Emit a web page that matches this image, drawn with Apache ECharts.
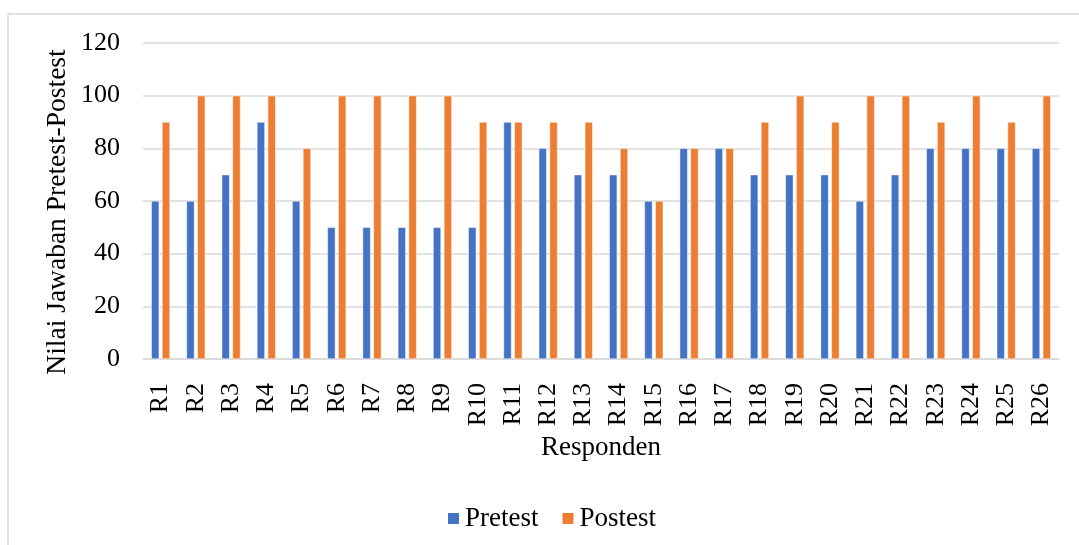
<!DOCTYPE html>
<html>
<head>
<meta charset="utf-8">
<script src="https://cdn.jsdelivr.net/npm/echarts@6/dist/echarts.min.js"></script>
<style>html,body{margin:0;padding:0;background:#fff;}#c{width:1079px;height:545px;}</style>
</head>
<body>
<div id="c"></div>
<script>
const categories = ['R1','R2','R3','R4','R5','R6','R7','R8','R9','R10','R11','R12','R13','R14','R15','R16','R17','R18','R19','R20','R21','R22','R23','R24','R25','R26'];
const pretest = [60,60,70,90,60,50,50,50,50,50,90,80,70,70,60,80,80,70,70,70,60,70,80,80,80,80];
const postest = [90,100,100,100,80,100,100,100,100,90,90,90,90,80,60,80,80,90,100,90,100,100,90,100,90,100];
const yTicks = [0,20,40,60,80,100,120];
const yTitle = 'Nilai Jawaban Pretest-Postest';

const font = 'Liberation Serif, Times New Roman, serif';
const chart = echarts.init(document.getElementById('c'));
chart.setOption({
  animation: false,
  graphic: [{
    type: 'rect', shape: {x: 8, y: 14, width: 1200, height: 600},
    style: {fill: 'none', stroke: '#d9d9d9', lineWidth: 1.5}, z: -1
  }, {
    type: 'text', x: 58, y: 212, rotation: Math.PI / 2,
    style: {text: yTitle, fontFamily: font, fontSize: 27.5, fill: '#000',
            align: 'center', verticalAlign: 'middle'}
  }],
  grid: {left: 143, right: 20, top: 43, bottom: 186, containLabel: false},
  legend: {
    data: ['Pretest','Postest'],
    top: 500, left: 441,
    itemWidth: 13, itemHeight: 13, itemGap: 22,
    icon: 'rect',
    textStyle: {fontFamily: font, fontSize: 27, color: '#000'}
  },
  xAxis: {
    type: 'category', data: categories,
    name: 'Responden', nameLocation: 'middle', nameGap: 72,
    nameTextStyle: {fontFamily: font, fontSize: 27, color: '#000'},
    axisLine: {lineStyle: {color: '#d9d9d9', width: 1.5}},
    axisTick: {show: false},
    axisLabel: {rotate: 90, fontFamily: font, fontSize: 26, color: '#000', margin: 24, interval: 0}
  },
  yAxis: {
    type: 'value', min: yTicks[0], max: yTicks[yTicks.length-1], interval: 20,
    axisLine: {show: false}, axisTick: {show: false},
    axisLabel: {fontFamily: font, fontSize: 26, color: '#000', margin: 23},
    splitLine: {lineStyle: {color: '#d9d9d9', width: 1.5}}
  },
  series: [
    {name: 'Pretest', type: 'bar', data: pretest, barWidth: 8, barGap: '35%',
     itemStyle: {color: '#4472C4', borderColor: '#fff', borderWidth: 0.5}},
    {name: 'Postest', type: 'bar', data: postest, barWidth: 8,
     itemStyle: {color: '#ED7D31', borderColor: '#fff', borderWidth: 0.5}}
  ]
});
</script>
</body>
</html>
